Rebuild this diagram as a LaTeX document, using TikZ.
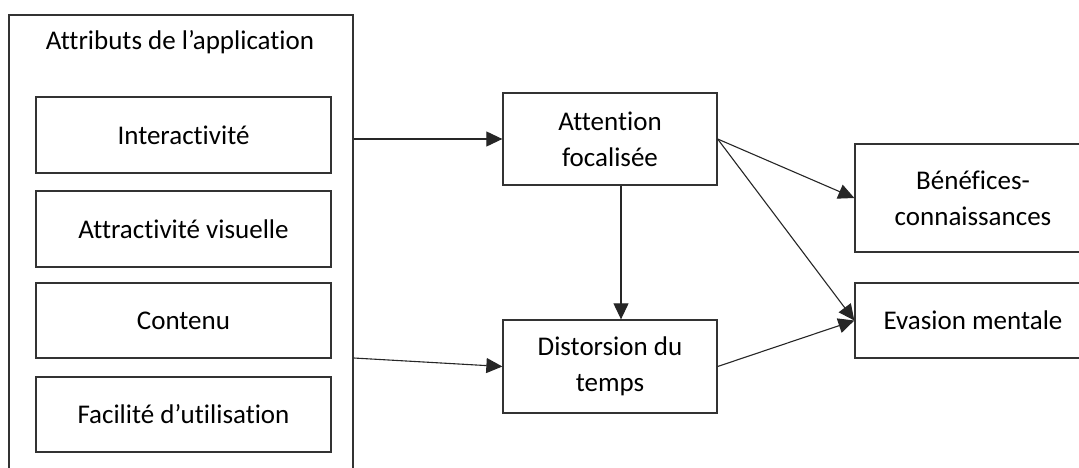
\documentclass[tikz,border=0pt]{standalone}
\usepackage{fontspec}
\setmainfont{Carlito}[Ligatures=NoCommon]
\usetikzlibrary{arrows.meta}
\begin{document}
\begin{tikzpicture}[x=1pt,y=-1pt,
  box/.style={draw=black!80, line width=1.3pt, rectangle, align=center,
    font=\fontsize{27}{36}\selectfont, inner sep=0pt},
  arr/.style={-{Triangle[length=16pt,width=15pt]}, line width=1.1pt, draw=black!85},
  lbl/.style={font=\fontsize{27}{36}\selectfont, inner sep=0pt}]
\clip (0,0) rectangle (1079,468);
\node[box, minimum width=344pt, minimum height=470pt] (outer) at (181,250) {};
\node[lbl] (title) at (180,42) {Attributs de l’application};
\node[box, minimum width=295pt, minimum height=76pt] (b1) at (183.5,135) {Interactivité};
\node[box, minimum width=295pt, minimum height=76pt] (b2) at (183.5,229) {Attractivité visuelle};
\node[box, minimum width=295pt, minimum height=75pt] (b3) at (183.5,320.5) {Contenu};
\node[box, minimum width=295pt, minimum height=75pt] (b4) at (183.5,414.5) {Facilité d’utilisation};
\node[box, minimum width=214pt, minimum height=92pt] (att) at (610,139) {Attention\\focalisée};
\node[box, minimum width=214pt, minimum height=93pt] (dis) at (610,366.5) {Distorsion du\\temps};
\node[box, minimum width=236pt, minimum height=108pt] (ben) at (973,198) {Bénéfices-\\connaissances};
\node[box, minimum width=236pt, minimum height=75pt] (eva) at (973,320.5) {Evasion mentale};
\draw[arr] (outer.east |- att.west) -- (att.west);
\draw[arr] ([yshift=-108pt]outer.east) -- (dis.west);
\draw[arr] ([xshift=11pt]att.south) -- ([xshift=11pt]dis.north);
\draw[arr] (att.east) -- (ben.west);
\draw[arr] (att.east) -- (eva.west);
\draw[arr] (dis.east) -- (eva.west);
\end{tikzpicture}
\end{document}
